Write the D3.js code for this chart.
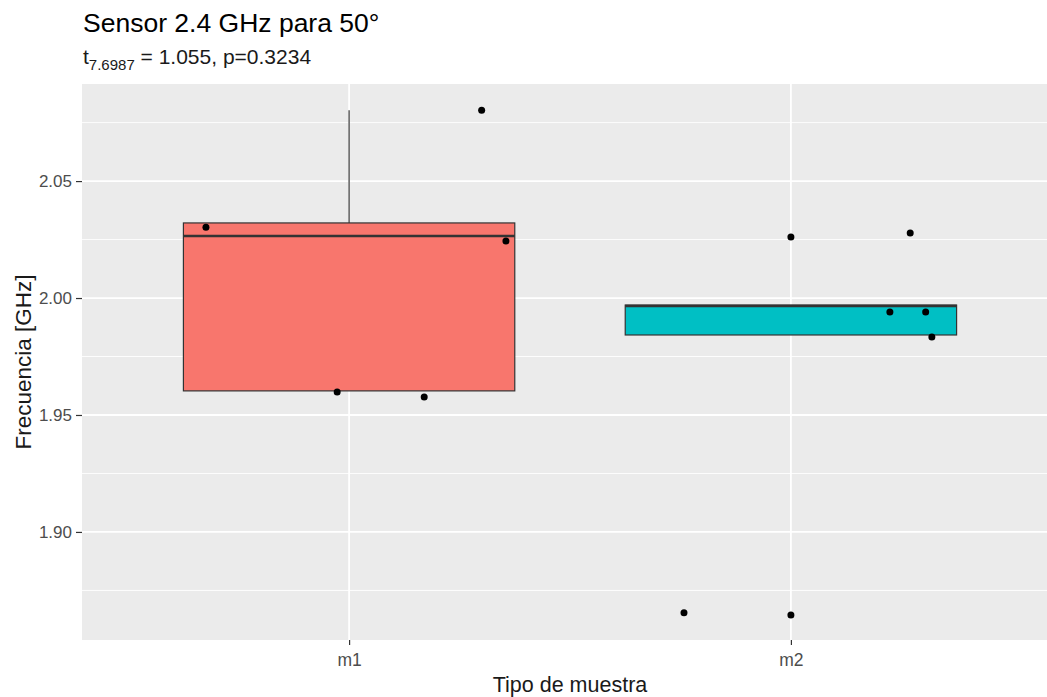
<!DOCTYPE html>
<html>
<head>
<meta charset="utf-8">
<script src="https://cdn.jsdelivr.net/npm/d3@7"></script>
<style>
  html, body { margin: 0; padding: 0; background: #fff; }
  svg { display: block; font-family: "Liberation Sans", Arial, sans-serif; }
</style>
</head>
<body>
<svg id="chart" width="1047" height="697"></svg>
<script>
// Groups and box statistics (GHz)
const groups = ["m1", "m2"];
const groupColors = ["#F8766D", "#00BFC4"];
const boxLower  = [1.9603, 1.9842];
const boxQ1     = [1.9603, 1.9842];
const boxMedian = [2.0265, 1.9966];
const boxQ3     = [2.0321, 1.9970];
const boxUpper  = [2.0803, 1.9970];

// Outliers flagged by the boxplot (drawn on the group centre)
const outlierGroup = ["m2", "m2"];
const outlierValue = [2.0261, 1.8645];

// Jittered observations: group, value, horizontal jitter (category units)
const pointGroup  = ["m1", "m1", "m1", "m1", "m1", "m2", "m2", "m2", "m2", "m2"];
const pointValue  = [2.0303, 2.0803, 2.0244, 1.9598, 1.9577, 1.8654, 2.0278, 1.9940, 1.9940, 1.9833];
const pointJitter = [-0.324, 0.300, 0.355, -0.027, 0.170, -0.242, 0.270, 0.224, 0.305, 0.319];

const yTicks = [1.90, 1.95, 2.00, 2.05];
const yMinor = [1.875, 1.925, 1.975, 2.025, 2.075];

const svg = d3.select("#chart");
const panel = { left: 82, top: 84, right: 1056, bottom: 640 };

const x = d3.scaleLinear().domain([0.4, 2.6]).range([84, panel.right]);
const y = d3.scaleLinear().domain([1.8538, 2.0915]).range([panel.bottom, panel.top]);
const gx = g => x(groups.indexOf(g) + 1);

// Panel background
svg.append("rect")
  .attr("x", panel.left).attr("y", panel.top)
  .attr("width", panel.right - panel.left).attr("height", panel.bottom - panel.top)
  .attr("fill", "#EBEBEB");

const grid = svg.append("g");
grid.selectAll("line.minor").data(yMinor).join("line")
  .attr("x1", panel.left).attr("x2", panel.right)
  .attr("y1", d => y(d)).attr("y2", d => y(d))
  .attr("stroke", "#fff").attr("stroke-width", 0.9);
grid.selectAll("line.major").data(yTicks).join("line")
  .attr("x1", panel.left).attr("x2", panel.right)
  .attr("y1", d => y(d)).attr("y2", d => y(d))
  .attr("stroke", "#fff").attr("stroke-width", 1.8);
grid.selectAll("line.vmajor").data(groups).join("line")
  .attr("x1", d => gx(d)).attr("x2", d => gx(d))
  .attr("y1", panel.top).attr("y2", panel.bottom)
  .attr("stroke", "#fff").attr("stroke-width", 1.8);

// Boxplots
const boxW = 0.75;
const halfW = (x(1 + boxW / 2) - x(1 - boxW / 2)) / 2;
const boxes = svg.append("g");
groups.forEach((g, i) => {
  const cx = gx(g);
  boxes.append("line")
    .attr("x1", cx).attr("x2", cx)
    .attr("y1", y(boxQ3[i])).attr("y2", y(boxUpper[i]))
    .attr("stroke", "#333").attr("stroke-width", 1.2);
  boxes.append("line")
    .attr("x1", cx).attr("x2", cx)
    .attr("y1", y(boxQ1[i])).attr("y2", y(boxLower[i]))
    .attr("stroke", "#333").attr("stroke-width", 1.2);
  boxes.append("rect")
    .attr("x", cx - halfW).attr("width", 2 * halfW)
    .attr("y", y(boxQ3[i])).attr("height", y(boxQ1[i]) - y(boxQ3[i]))
    .attr("fill", groupColors[i]).attr("stroke", "#333").attr("stroke-width", 1.2);
  boxes.append("line")
    .attr("x1", cx - halfW).attr("x2", cx + halfW)
    .attr("y1", y(boxMedian[i])).attr("y2", y(boxMedian[i]))
    .attr("stroke", "#333").attr("stroke-width", 2.4);
});

// Outliers and jittered points
const pts = svg.append("g");
pts.selectAll("circle.out").data(outlierValue).join("circle")
  .attr("cx", (d, i) => gx(outlierGroup[i]))
  .attr("cy", d => y(d))
  .attr("r", 3.5).attr("fill", "#000");
pts.selectAll("circle.jit").data(pointValue).join("circle")
  .attr("cx", (d, i) => x(groups.indexOf(pointGroup[i]) + 1 + pointJitter[i]))
  .attr("cy", d => y(d))
  .attr("r", 3.5).attr("fill", "#000");

// Axes
const yAxis = svg.append("g")
  .attr("transform", `translate(${panel.left},0)`)
  .call(d3.axisLeft(y).tickValues(yTicks).tickFormat(d3.format(".2f")).tickSize(6).tickPadding(4));
yAxis.select(".domain").remove();
yAxis.selectAll(".tick line").attr("stroke", "#333").attr("stroke-width", 1.2);
yAxis.selectAll(".tick text").attr("fill", "#4D4D4D").style("font-size", "17px")
  .style("font-family", "Liberation Sans, Arial, sans-serif");

const xAxis = svg.append("g")
  .attr("transform", `translate(0,${panel.bottom})`)
  .call(d3.axisBottom(x).tickValues([1, 2]).tickFormat(d => groups[d - 1]).tickSize(5).tickPadding(9));
xAxis.select(".domain").remove();
xAxis.selectAll(".tick line").attr("stroke", "#333").attr("stroke-width", 1.2);
xAxis.selectAll(".tick text").attr("fill", "#4D4D4D").style("font-size", "17.5px")
  .style("font-family", "Liberation Sans, Arial, sans-serif");

// Titles
svg.append("text")
  .attr("x", (84 + panel.right) / 2).attr("y", 692)
  .attr("text-anchor", "middle").attr("fill", "#1a1a1a").style("font-size", "21.5px")
  .text("Tipo de muestra");
svg.append("text")
  .attr("transform", `translate(31,${(panel.top + panel.bottom) / 2}) rotate(-90)`)
  .attr("text-anchor", "middle").attr("fill", "#1a1a1a").style("font-size", "22.5px")
  .text("Frecuencia [GHz]");

svg.append("text")
  .attr("x", 83).attr("y", 32)
  .attr("fill", "#000").style("font-size", "26.5px")
  .text("Sensor 2.4 GHz para 50°");

const sub = svg.append("text")
  .attr("x", 83).attr("y", 64)
  .attr("fill", "#1a1a1a").style("font-size", "21px");
sub.append("tspan").text("t");
sub.append("tspan").attr("dy", 6).style("font-size", "15px").text("7.6987");
sub.append("tspan").attr("dy", -6).text(" = 1.055, p=0.3234");
</script>
</body>
</html>
